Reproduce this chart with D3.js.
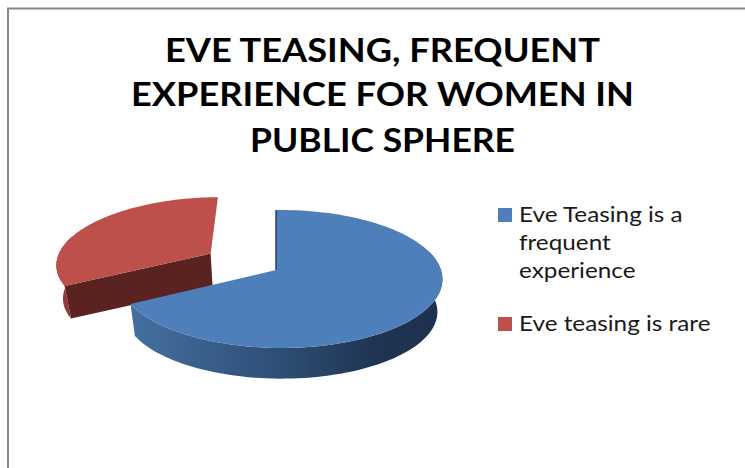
<!DOCTYPE html>
<html>
<head>
<meta charset="utf-8">
<script src="https://cdn.jsdelivr.net/npm/d3@7/dist/d3.min.js"></script>
<style>
  html, body { margin: 0; padding: 0; background: #fff; }
  svg { display: block; }
</style>
</head>
<body>
<svg id="chart" width="745" height="468"></svg>
<script>
// Chart content
const categories = ["Eve Teasing is a frequent experience", "Eve teasing is rare"];
const values = [67, 33];
const exploded = [0, 0.49];
const titleLines = ["EVE TEASING, FREQUENT", "EXPERIENCE FOR WOMEN IN", "PUBLIC SPHERE"];
const legendLines = [["Eve Teasing is a", "frequent", "experience"], ["Eve teasing is rare"]];
const topColors = ["#4e7fba", "#be504c"];

const svg = d3.select("#chart");
const defs = svg.append("defs");

// Frame around the chart area (open towards the right and bottom edges)
svg.append("path")
  .attr("d", "M8,468V8.5H745")
  .attr("fill", "none").attr("stroke", "#868686").attr("stroke-width", 2);

// Title, widened slightly to the chart's heading proportions
const titleWidths = [435, 503, 265];
svg.append("g").selectAll("text").data(titleLines).join("text")
  .attr("x", 382.5)
  .attr("y", (d, i) => [62, 106, 152][i])
  .attr("text-anchor", "middle")
  .attr("font-family", "Lato")
  .attr("font-weight", 700)
  .attr("font-size", 32)
  .attr("fill", "#000")
  .attr("textLength", (d, i) => titleWidths[i])
  .attr("lengthAdjust", "spacingAndGlyphs")
  .text(d => d);

// Perspective projection of the tilted pie disc onto the page.
// localU is measured from the wedge's own apex, so an exploded wedge keeps its width.
const cx = 276, cy = 270, rx = 160, ry = 67.8, k = 0.13;
const sideTilt = [0.03, 0.015];
const wallScale = 0.97, wallDepth = 33;
function project(u, v, localU, tilt) {
  const w = 1 - k * v - tilt * localU;
  return [cx + rx * u / w, cy + ry * v / w];
}
function lower(p) {
  return [cx + (p[0] - cx) * wallScale, cy + (p[1] - cy) * wallScale + wallDepth];
}

const pie = d3.pie().sort(null).value(d => d);
const arcs = pie(values);
const path = d3.line();

function addGradient(id, stops, x1, x2) {
  const g = defs.append("linearGradient").attr("id", id)
    .attr("gradientUnits", "userSpaceOnUse")
    .attr("x1", x1).attr("x2", x2).attr("y1", 0).attr("y2", 0);
  stops.forEach(s => g.append("stop").attr("offset", s[0]).attr("stop-color", s[1]));
}
addGradient("blueWall", [[0, "#44709f"], [0.45, "#2f5079"], [0.8, "#1f3450"], [1, "#1d3150"]], 131, 441);
addGradient("redWall", [[0, "#a8433f"], [1, "#8a3835"]], 54, 70);

const wallFills = ["url(#blueWall)", "url(#redWall)"];
const pieGroup = svg.append("g");

[1, 0].forEach(i => {
  const a = arcs[i];
  const mid = (a.startAngle + a.endAngle) / 2;
  const ox = Math.sin(mid) * exploded[i], oy = -Math.cos(mid) * exploded[i];
  const toPoint = t => project(ox + Math.sin(t), oy - Math.cos(t), Math.sin(t), sideTilt[i]);
  const angles = d3.range(0, 121).map(n => a.startAngle + (a.endAngle - a.startAngle) * n / 120);
  const rim = angles.map(toPoint);
  const apex = project(ox, oy, 0, sideTilt[i]);

  // outer wall, only along the part of the rim that faces the viewer
  const frontRim = angles.filter(t => -Math.cos(t) > -0.3).map(toPoint);
  pieGroup.append("path")
    .attr("d", path(frontRim.concat(frontRim.map(lower).reverse())) + "Z")
    .attr("fill", wallFills[i]);

  // cut face visible on the exploded wedge
  if (exploded[i] > 0) {
    const edge = [rim[0], apex];
    pieGroup.append("path")
      .attr("d", path(edge.concat(edge.map(lower).reverse())) + "Z")
      .attr("fill", "#5a2321");
  }

  // top face
  pieGroup.append("path")
    .attr("d", path([apex].concat(rim)) + "Z")
    .attr("fill", topColors[i]);

  // thin shaded sliver along the first radius of the main slice
  if (exploded[i] === 0) {
    pieGroup.append("path")
      .attr("d", path([rim[0], apex]))
      .attr("fill", "none").attr("stroke", "#1f3a5c").attr("stroke-width", 1.4);
  }
});

// Legend
const legendTop = [208, 317];
const legendStretch = 1.13;
const legend = svg.append("g").selectAll("g").data(categories).join("g");
legend.append("rect")
  .attr("x", 498).attr("y", (d, i) => legendTop[i])
  .attr("width", 14).attr("height", 14)
  .attr("fill", (d, i) => topColors[i]);
legend.each(function (d, i) {
  d3.select(this).selectAll("text").data(legendLines[i]).join("text")
    .attr("x", 519)
    .attr("y", (t, j) => legendTop[i] + 14 + j * 28)
    .attr("font-family", "Lato")
    .attr("font-size", 21.5)
    .attr("fill", "#1a1a1a")
    .text(t => t)
    .each(function () {
      d3.select(this)
        .attr("textLength", this.getComputedTextLength() * legendStretch)
        .attr("lengthAdjust", "spacingAndGlyphs");
    });
});
</script>
</body>
</html>
